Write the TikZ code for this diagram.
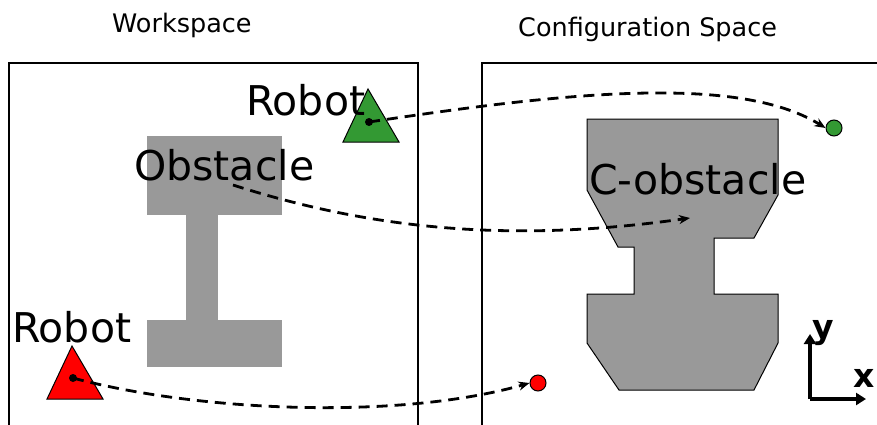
\documentclass[tikz,border=0pt]{standalone}
\usepackage{fontspec}
\setmainfont{DejaVu Sans}
\usetikzlibrary{arrows.meta}
\definecolor{obsgray}{RGB}{153,153,153}
\definecolor{robgreen}{RGB}{51,153,51}
\definecolor{robred}{RGB}{255,0,0}
\tikzset{
  frame/.style={line width=2.7pt},
  obst/.style={fill=obsgray},
  cobst/.style={fill=obsgray,draw=black,line width=1pt},
  robottri/.style={draw=black,line width=1pt},
  bigtext/.style={inner sep=0pt,font=\fontsize{41}{41}\selectfont},
  title/.style={inner sep=0pt,font=\fontsize{25.5}{26}\selectfont},
  pathline/.style={dashed,dash pattern=on 11pt off 7pt,line width=2.8pt,-{Stealth[length=11pt,width=9pt]}},
  goal/.style={circle,draw=black,line width=1pt,minimum size=16pt,inner sep=0pt},
  pin/.style={circle,fill=black,minimum size=8pt,inner sep=0pt},
  axis/.style={line width=4pt,-{Triangle[length=10pt,width=12pt]}},
  axlabel/.style={inner sep=0pt,font=\fontsize{33}{33}\selectfont\bfseries},
}
\begin{document}
\begin{tikzpicture}[x=1pt,y=-1pt]
\useasboundingbox (0,0) rectangle (877,425);
% titles
\node[title,anchor=base west] (wstitle) at (112,33) {Workspace};
\node[title,anchor=base west] (cstitle) at (518,37) {Configuration Space};
% frames
\draw[frame] (9,426) -- (9,63) -- (418,63) -- (418,426);
\draw[frame] (482,426) -- (482,63) -- (878,63);
% workspace obstacle
\fill[obst] (147,136) rectangle (282,215);
\fill[obst] (186,214) rectangle (218,321);
\fill[obst] (147,320) rectangle (282,367);
% C-obstacle
\draw[cobst] (587,119) -- (778,119) -- (778,195) -- (754,238) -- (714,238) -- (714,294)
  -- (778,294) -- (778,343) -- (754,390) -- (619,390) -- (587,343) -- (587,294)
  -- (634,294) -- (634,247) -- (618,247) -- (587,190) -- cycle;
% robots
\draw[robottri,fill=robgreen] (368,89) -- (399,142) -- (343,142) -- cycle;
\draw[robottri,fill=robred] (72,346) -- (103,399) -- (47,399) -- cycle;
% labels
\node[bigtext,anchor=base west] (robtop) at (246,116) {Robot};
\node[bigtext,anchor=base west] (obslabel) at (134,180) {Obstacle};
\node[bigtext,anchor=base west] (coblabel) at (589,194) {C-obstacle};
\node[bigtext,anchor=base west] (robbot) at (12,342) {Robot};
% pins and goals
\node[pin] (gpin) at (369,122) {};
\node[pin] (rpin) at (73,378) {};
\coordinate (obsstart) at (233,185);
\coordinate (obsend) at (690,218);
\node[goal,fill=robgreen] (ggoal) at (834,128) {};
\node[goal,fill=robred] (rgoal) at (538,383) {};
% mapping curves
\draw[pathline] (gpin.center) .. controls (550,95) and (735,72) .. (ggoal.west);
\draw[pathline] (obsstart) .. controls (380,232) and (520,242) .. (obsend);
\draw[pathline] (rpin.center) .. controls (200,412) and (400,420) .. (rgoal.west);
% axes
\coordinate (origin) at (810,399);
\coordinate (yend) at (810,334);
\coordinate (xend) at (866,399);
\draw[axis] (origin) -- (yend);
\draw[axis] (origin) -- (xend);
\node[axlabel,anchor=base west] (ylab) at (812,338) {y};
\node[axlabel,anchor=base west] (xlab) at (853,387) {x};
\end{tikzpicture}
\end{document}
